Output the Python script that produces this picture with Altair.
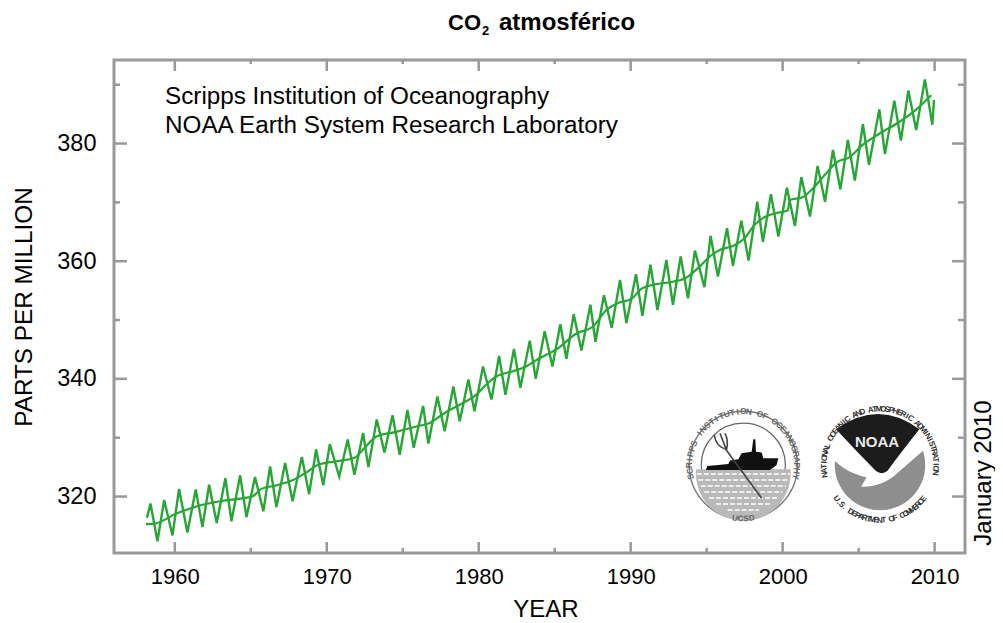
import math
import altair as alt
import pandas as pd

# ---- values ----
monthly_year = [1958.17,1958.40,1958.86,1959.30,1959.85,1960.28,1960.83,1961.38,1961.82,1962.26,1962.76,1963.33,1963.73,1964.30,1964.72,1965.28,1965.83,1966.27,1966.69,1967.26,1967.75,1968.36,1968.84,1969.30,1969.77,1970.20,1970.82,1971.38,1971.82,1972.39,1972.74,1973.29,1973.80,1974.33,1974.80,1975.31,1975.72,1976.34,1976.69,1977.28,1977.76,1978.33,1978.75,1979.32,1979.72,1980.28,1980.84,1981.34,1981.76,1982.32,1982.74,1983.36,1983.75,1984.34,1984.85,1985.37,1985.77,1986.25,1986.76,1987.35,1987.68,1988.24,1988.75,1989.30,1989.72,1990.35,1990.77,1991.30,1991.76,1992.35,1992.78,1993.29,1993.77,1994.23,1994.85,1995.26,1995.74,1996.34,1996.73,1997.28,1997.76,1998.33,1998.70,1999.23,1999.72,2000.28,2000.81,2001.23,2001.80,2002.30,2002.79,2003.31,2003.80,2004.29,2004.75,2005.28,2005.68,2006.36,2006.73,2007.35,2007.78,2008.27,2008.79,2009.36,2009.85,2009.96]
monthly_ppm = [316.4,318.8,312.4,319.4,313.4,321.3,313.9,321.2,314.8,322.0,315.5,323.1,315.8,323.6,316.5,323.3,317.5,325.1,318.2,325.7,319.2,326.7,320.4,328.0,321.9,328.9,323.4,329.7,323.7,330.8,325.0,333.1,327.5,333.8,327.1,334.7,328.3,335.4,329.0,337.0,331.1,338.7,332.8,339.9,334.5,342.1,336.5,343.9,337.3,345.1,338.5,346.5,340.0,348.1,342.1,349.3,343.4,351.0,344.8,352.6,346.3,354.2,348.7,356.8,349.5,357.8,350.7,359.4,351.7,360.2,352.6,360.8,353.7,361.8,355.6,364.3,357.4,365.6,359.2,366.9,360.1,370.1,363.3,371.4,364.2,372.5,366.0,374.3,367.6,376.2,370.1,378.9,372.2,380.6,373.7,383.3,376.4,385.8,378.2,387.3,380.5,389.0,382.3,390.9,383.2,387.4]
trend_year = [1958.10,1958.68,1960.10,1961.53,1962.96,1964.72,1965.10,1965.70,1966.69,1967.78,1968.66,1969.43,1970.63,1971.84,1972.39,1973.27,1974.58,1975.90,1976.78,1977.76,1978.75,1979.74,1980.60,1981.16,1982.26,1983.03,1984.00,1985.11,1986.43,1987.52,1988.40,1989.17,1990.05,1990.70,1991.69,1992.78,1993.66,1994.54,1995.20,1995.86,1996.73,1997.50,1998.16,1998.82,1999.58,2000.34,2000.46,2001.34,2001.89,2002.88,2003.54,2004.41,2005.28,2006.38,2007.70,2008.80,2009.78]
trend_ppm = [315.3,315.4,317.1,318.4,319.2,319.8,320.0,321.3,321.9,322.8,324.1,325.4,326.0,326.6,328.0,330.2,331.0,331.9,332.5,334.2,335.6,337.1,339.3,340.4,341.3,342.0,343.5,345.0,347.7,348.9,351.7,352.9,353.6,355.3,356.1,356.5,357.2,359.1,360.8,361.9,362.6,363.9,366.2,367.5,368.2,368.6,370.4,370.9,372.1,375.0,376.8,377.7,379.8,381.7,383.7,385.8,388.2]
x_major = [1960,1970,1980,1990,2000,2010]
x_minor = [1965,1975,1985,1995,2005]
y_major = [320,340,360,380]
y_minor = [330,350,370,390]
caption_lines = ["Scripps Institution of Oceanography","NOAA Earth System Research Laboratory"]
scripps_ring = "SCRIPPS INSTITUTION OF OCEANOGRAPHY"
noaa_ring_top = "NATIONAL OCEANIC AND ATMOSPHERIC ADMINISTRATION"
noaa_ring_bottom = "U.S. DEPARTMENT OF COMMERCE"

FONT = "Liberation Sans"
GREEN = "#27a636"
FRAME = "#999999"
W, H = 851, 493
XD, YD = (1956, 2012), (310.4, 394.2)
xs = alt.Scale(domain=list(XD), nice=False, zero=False)
ys = alt.Scale(domain=list(YD), nice=False, zero=False)
one = pd.DataFrame({"k": [0]})

x_axis = alt.Axis(values=x_major, format="d", grid=False, domain=False, ticks=False, title="YEAR",
        labelFont=FONT, labelFontSize=22, labelColor="black", labelPadding=13, titleFont=FONT, titleFontSize=24,
        titleFontWeight="normal", titleColor="black", titlePadding=10, titleX=431.5)
y_axis = alt.Axis(values=y_major, format="d", grid=False, domain=False, ticks=False, title="PARTS PER MILLION",
        labelFont=FONT, labelFontSize=23.5, labelColor="black", labelPadding=18, titleFont=FONT, titleFontSize=24.3,
        titleFontWeight="normal", titleColor="black", titlePadding=20)

def X(): return alt.X("year:Q", scale=xs, axis=x_axis)
def Y(): return alt.Y("ppm:Q", scale=ys, axis=y_axis)

def xticks(vals, y0, y1):
    return alt.Chart(pd.DataFrame({"year": vals})).mark_rule(color=FRAME, strokeWidth=2.5).encode(
        x=X(), y=alt.value(y0), y2=alt.value(y1))
def yticks(vals, x0, x1):
    return alt.Chart(pd.DataFrame({"ppm": vals})).mark_rule(color=FRAME, strokeWidth=2.5).encode(
        y=Y(), x=alt.value(x0), x2=alt.value(x1))
ticks = [xticks(x_major, H, H-11), xticks(x_minor, H, H-5), xticks(x_major, 0, 11), xticks(x_minor, 0, 4),
         yticks(y_major, 0, 13), yticks(y_minor, 0, 6), yticks(y_major, W, W-13), yticks(y_minor, W, W-7)]

monthly = alt.Chart(pd.DataFrame({"year": monthly_year, "ppm": monthly_ppm})).mark_line(color=GREEN, strokeWidth=2.4, interpolate="linear").encode(
    x=X(), y=Y(), order="year:Q")
trend = alt.Chart(pd.DataFrame({"year": trend_year, "ppm": trend_ppm})).mark_line(color=GREEN, strokeWidth=2.2, interpolate="monotone").encode(
    x=X(), y=Y(), order="year:Q")

def label(txt, px, py, size, weight="normal", align="left", angle=0, color="black", font=FONT):
    return alt.Chart(one).mark_text(text=txt, font=font, fontSize=size, fontWeight=weight, align=align, baseline="middle",
        angle=angle, color=color).encode(x=alt.value(px-114), y=alt.value(py-60))

texts = [
    label("CO", 448, 23, 22, "bold"),
    label("2", 482, 31, 13, "bold"),
    label("atmosférico", 499, 23, 24, "bold"),
    label(caption_lines[0], 165, 97, 24.25),
    label(caption_lines[1], 165, 126, 24.25),
    label("January 2010", 984, 473, 24, align="center", angle=270),
]

# ---- logos -----
def glyph(path, cx, cy, R, fill=None, stroke=None, sw=1, dash=None):
    kw = dict(shape=path, size=(2*R)**2, opacity=1, filled=fill is not None)
    if fill is not None: kw["fill"] = fill
    if stroke is not None:
        kw["stroke"] = stroke; kw["strokeWidth"] = sw
    if dash: kw["strokeDash"] = dash
    return alt.Chart(one).mark_point(**kw).encode(x=alt.value(cx-114), y=alt.value(cy-60))

def circle(cx, cy, r, fill=None, stroke=None, sw=1):
    kw = dict(shape="circle", size=math.pi*r*r, opacity=1, filled=fill is not None)
    if fill is not None: kw["fill"] = fill
    if stroke is not None:
        kw["stroke"] = stroke; kw["strokeWidth"] = sw
    return alt.Chart(one).mark_point(**kw).encode(x=alt.value(cx-114), y=alt.value(cy-60))

def norm(cmds, zc, R=183.0):
    out = []
    for c in cmds:
        out.append(c[0] + " ".join(f"{(c[i]-zc[0])/R:.3f},{(c[i+1]-zc[1])/R:.3f}" for i in range(1, len(c), 2)))
    return "".join(out)

def to_data(px, py):
    return XD[0] + (px-114)/W*(XD[1]-XD[0]), YD[1] - (py-60)/H*(YD[1]-YD[0])

def ring(chars, cx, cy, r, start, step, bottom=False, size=7, color="#444444"):
    rows = []
    for i, ch in enumerate(chars):
        th = math.radians(start + i*step)
        if bottom:
            px, py = cx + r*math.sin(th), cy + r*math.cos(th)
            a = (-math.degrees(th)) % 360
        else:
            px, py = cx + r*math.sin(th), cy - r*math.cos(th)
            a = math.degrees(th) % 360
        yr, pp = to_data(px, py)
        rows.append({"year": yr, "ppm": pp, "ch": ch, "a": a})
    return alt.Chart(pd.DataFrame(rows)).mark_text(font=FONT, fontSize=size, fontWeight="bold", color=color, baseline="middle", align="center").encode(
        x=X(), y=Y(), text="ch:N", angle=alt.Angle("a:Q", scale=None))

# Scripps seal
L = (743.3, 465.3); LZ = (220, 226)
rin = 142.0
h0 = 238
half = math.sqrt(rin**2 - (h0-LZ[1])**2)
sea = norm([("M", LZ[0]-half, h0)], LZ) + f"A{rin/183:.3f},{rin/183:.3f} 0 1 0 {half/183:.3f},{(h0-LZ[1])/183:.3f}Z"
waves = ""
for h in range(252, 365, 18):
    w = math.sqrt(rin**2 - (h-LZ[1])**2)
    waves += norm([("M", LZ[0]-w, h), ("L", LZ[0]+w, h)], LZ)
ship = norm([("M",108,240),("L",112,228),("L",145,225),("L",175,222),("L",180,212),("L",205,208),("L",215,190),("L",245,185),("L",250,148),("L",256,148),("L",258,185),("L",275,188),("L",280,205),("L",325,205),("L",320,225),("L",300,240)], LZ) + "Z"
shaft = norm([("M",165,175),("L",275,325)], LZ)
fork = norm([("M",133,135),("Q",138,172,170,178),("Q",176,150,165,130),("M",150,130),("L",168,176)], LZ)
logo_left = [
    circle(*L, 61, stroke="#777777", sw=1.4),
    circle(*L, 47.5, stroke="#666666", sw=1.2),
    glyph(sea, *L, 61, fill="#b9b9b9"),
    glyph(waves, *L, 61, stroke="#ffffff", sw=1.6, dash=[5, 2]),
    glyph(ship, *L, 61, fill="#111111"),
    glyph(shaft, *L, 61, stroke="#444444", sw=1.6),
    glyph(fork, *L, 61, stroke="#444444", sw=1.6),
    ring(scripps_ring, *L, 54, -102, 6, size=8.5, color="#666666"),
    ring("UCSD", *L, 54, -9, 6, bottom=True, size=8, color="#666666"),
]

# NOAA seal
N = (880.0, 465.0); NZ = (630, 225)
swoosh = norm([("M",468,180),("Q",510,245,590,262),("L",573,290),("Q",640,292,690,242),("L",785,160),("L",790,60),("L",470,60)], NZ) + "Z"
dark = norm([("M",498,118),("Q",625,26,748,118),("Q",695,185,652,243),("Q",635,256,618,243),("Q",560,185,498,118)], NZ) + "Z"
logo_right = [
    circle(*N, 51, fill="#8e8e8e"),
    glyph(swoosh, *N, 61, fill="#ffffff"),
    glyph(dark, *N, 61, fill="#1c1c1c"),
    label("NOAA", 880-3, 442, 15, "bold", align="center", color="#e8e8e8"),
    ring(noaa_ring_top, *N, 55.5, -100, 4.3, size=8, color="#333333"),
    ring(noaa_ring_bottom, *N, 55.5, -52, 4, bottom=True, size=8, color="#333333"),
]

chart = alt.layer(*ticks, *logo_left, *logo_right, monthly, trend, *texts).properties(
    width=W, height=H,
    background="white",
    autosize=alt.AutoSizeParams(type="none"),
    padding={"left": 106, "top": 52, "right": 30, "bottom": 70},
).configure_view(stroke=FRAME, strokeWidth=3)

chart.save("out.html", embed_options={"renderer": "svg", "actions": False})
